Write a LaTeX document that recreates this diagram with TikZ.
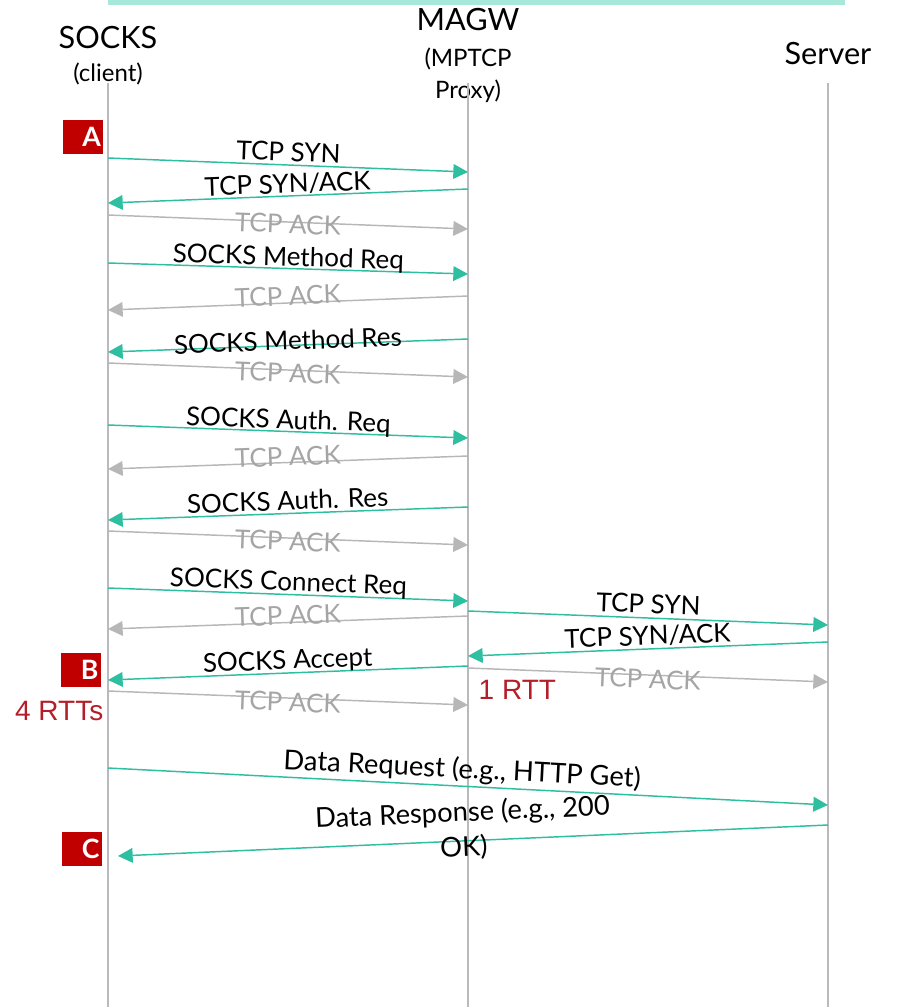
\documentclass[tikz,border=0pt]{standalone}
\usepackage{fontspec}
\setmainfont{Lato}
\newfontfamily\rttfont{Liberation Sans}
\usetikzlibrary{arrows.meta}

\definecolor{msggreen}{RGB}{46,190,160}
\definecolor{ackgray}{RGB}{183,183,183}
\definecolor{acktext}{RGB}{165,165,165}
\definecolor{lifegray}{RGB}{185,185,190}
\definecolor{barcyan}{RGB}{168,232,218}
\definecolor{tagred}{RGB}{192,0,0}
\definecolor{rttred}{RGB}{180,30,40}

\begin{document}
\begin{tikzpicture}[x=0.75pt, y=-0.75pt,
    msg/.style={draw=msggreen, line width=1.1pt, -{Triangle[length=11pt, width=11pt]}},
    ack/.style={draw=ackgray, line width=1.1pt, -{Triangle[length=11pt, width=11pt]},
      every node/.append style={text=acktext}},
    lbl/.style={midway, sloped, inner sep=0pt, font=\fontsize{19.5}{23}\selectfont},
    datalbl/.style={lbl, font=\fontsize{20.5}{24}\selectfont},
    head/.style={font=\fontsize{23}{26}\selectfont},
    sub/.style={font=\fontsize{18}{21}\selectfont},
    tag/.style={fill=tagred, text=white, font=\bfseries\fontsize{20}{22}\selectfont,
      minimum height=25.5pt, text width=27pt, align=right, inner xsep=1.5pt, inner ysep=0pt},
    rtt/.style={text=rttred, font=\rttfont\fontsize{21}{25}\selectfont}]
  \useasboundingbox (0,0) rectangle (897,1007);
  \fill[barcyan] (108,0) rectangle (845,5);

  % the three parties
  \node[head] (cli) at (108,38) {SOCKS};
  \node[sub] (cli-sub) at (108,74) {(client)};
  \node[head] (gw) at (468,20) {MAGW};
  \node[sub] (gw-sub) at (468,59) {(MPTCP};
  \node[sub] (gw-sub2) at (468,91) {Proxy)};
  \node[head] (srv) at (828,54) {Server};
  \foreach \n in {cli,gw,srv}
    \draw[lifegray, line width=1.1pt] (\n |- 0,83) -- (\n |- 0,1007);

  % messages
  \foreach \a/\ya/\b/\yb/\kind/\txt/\off in {
      cli/158/gw/172/msg/TCP SYN/-13,
      gw/189/cli/203/msg/{TCP SYN/ACK}/-12,
      cli/215/gw/229/ack/TCP ACK/2,
      cli/263/gw/274/msg/SOCKS Method Req/-10,
      gw/296/cli/310/ack/TCP ACK/-7,
      gw/339/cli/352/msg/SOCKS Method Res/-5,
      cli/363/gw/377/ack/TCP ACK/3,
      cli/425/gw/438/msg/SOCKS Auth. Req/-10,
      gw/456/cli/469/ack/TCP ACK/-6,
      gw/507/cli/520/msg/SOCKS Auth. Res/-13,
      cli/531/gw/545/ack/TCP ACK/3,
      cli/588/gw/601/msg/SOCKS Connect Req/-11,
      gw/616/cli/629/ack/TCP ACK/-7,
      gw/611/srv/625/msg/TCP SYN/-14,
      srv/642/gw/656/msg/{TCP SYN/ACK}/-13,
      gw/666/cli/680/msg/SOCKS Accept/-11,
      gw/668/srv/682/ack/TCP ACK/4,
      cli/691/gw/705/ack/TCP ACK/4}
    \draw[\kind] (\a |- 0,\ya) -- (\b |- 0,\yb)
      node[lbl, yshift={-(\off)*0.75pt}] {\txt};

  \draw[msg] (cli |- 0,768) -- (srv |- 0,805)
    node[datalbl, xshift=-5pt, yshift=12pt] {Data Request (e.g., HTTP Get)};
  \coordinate (resp-end) at (118,856);
  \draw[msg] (srv |- 0,825) -- (resp-end)
    node[datalbl, align=center, xshift=-7pt, yshift=8pt] {Data Response (e.g., 200\\[2pt]OK)};

  % markers
  \node[tag] (tagA) at (83,137) {A};
  \node[tag] (tagB) at (80.5,669.5) {B};
  \node[tag] (tagC) at (81.5,848.5) {C};
  \node[rtt, anchor=east] (rtt4) at (108,711) {4 RTTs};
  \node[rtt, anchor=west] (rtt1) at (474,690) {1 RTT};
\end{tikzpicture}
\end{document}
